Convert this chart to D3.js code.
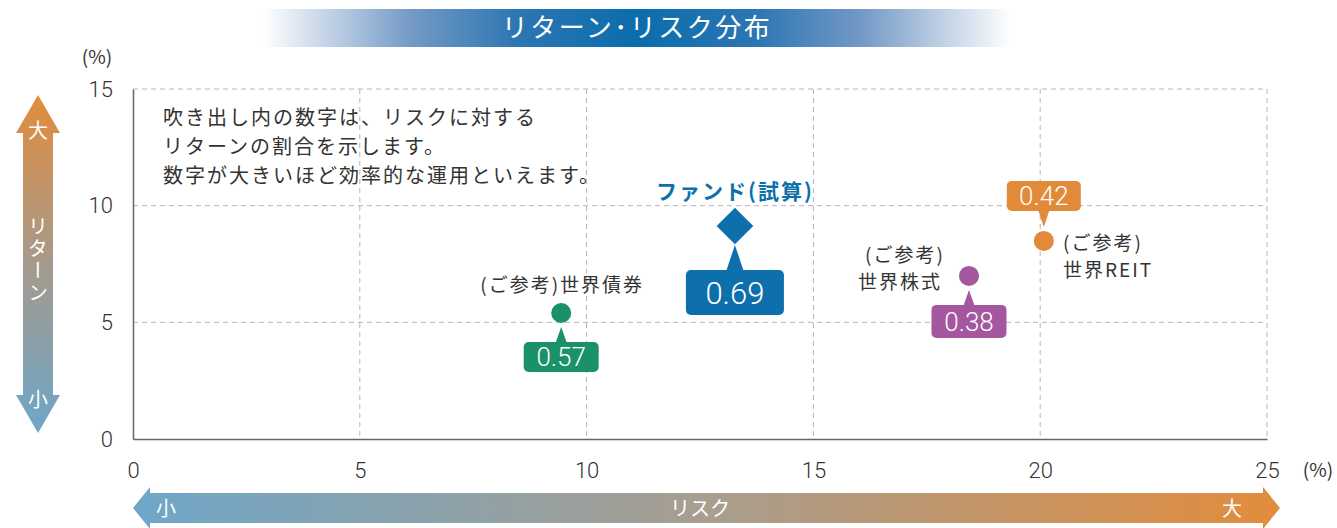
<!DOCTYPE html>
<html><head><meta charset="utf-8">
<script src="https://cdn.jsdelivr.net/npm/d3@7"></script>
<style>
html,body{margin:0;padding:0;background:#fff;}
svg{display:block;font-family:"Noto Sans CJK JP","Noto Sans",sans-serif;}
</style></head>
<body>
<svg id="c" width="1337" height="528"></svg>
<script>
// ---- data ----
const names = ["世界債券", "ファンド", "世界株式", "世界REIT"];
const risk = [9.44, 13.27, 18.43, 20.08];
const ret = [5.40, 9.13, 6.99, 8.49];
const ratioLabels = ["0.57", "0.69", "0.38", "0.42"];
const xTicks = [0, 5, 10, 15, 20, 25];
const yTicks = [0, 5, 10, 15];
const noteLines = ["吹き出し内の数字は、リスクに対する", "リターンの割合を示します。", "数字が大きいほど効率的な運用といえます。"];

const colors = ["#1a9168", "#0e6fad", "#a4579f", "#e08a3a"];

const svg = d3.select("#c");
const x = d3.scaleLinear().domain([0, 25]).range([133, 1267]);
const y = d3.scaleLinear().domain([0, 15]).range([439, 89]);

const defs = svg.append("defs");
const tg = defs.append("linearGradient").attr("id","tg").attr("x1","0").attr("x2","1");
[[0,"#ffffff"],[0.2,"#7399c6"],[0.34,"#2c76b3"],[0.5,"#0a6dac"],[0.66,"#2c76b3"],[0.8,"#7399c6"],[1,"#ffffff"]]
  .forEach(s=>tg.append("stop").attr("offset",s[0]).attr("stop-color",s[1]));
const vg = defs.append("linearGradient").attr("id","vg").attr("x1","0").attr("x2","0").attr("y1","0").attr("y2","1");
[[0,"#e28c3c"],[0.5,"#a59a8c"],[1,"#6ea6c8"]].forEach(s=>vg.append("stop").attr("offset",s[0]).attr("stop-color",s[1]));
const hg = defs.append("linearGradient").attr("id","hg").attr("x1","0").attr("x2","1");
[[0,"#6ea6c8"],[0.5,"#a89e90"],[1,"#e28c3c"]].forEach(s=>hg.append("stop").attr("offset",s[0]).attr("stop-color",s[1]));

// title
svg.append("rect").attr("x",263).attr("y",9).attr("width",748).attr("height",38).attr("fill","url(#tg)");
svg.append("text").attr("x",637).attr("y",37).attr("text-anchor","middle").attr("fill","#fff")
  .attr("font-size",26).attr("letter-spacing",2.5).text("リターン･リスク分布");

// grid
const g = svg.append("g");
g.selectAll(".gx").data(xTicks.filter(d=>d>0)).enter().append("line")
  .attr("x1",d=>x(d)).attr("x2",d=>x(d)).attr("y1",y(15)).attr("y2",y(0))
  .attr("stroke","#b5b5b5").attr("stroke-dasharray","5,4").attr("stroke-width",1);
g.selectAll(".gy").data(yTicks.filter(d=>d>0)).enter().append("line")
  .attr("x1",x(0)).attr("x2",x(25)).attr("y1",d=>y(d)).attr("y2",d=>y(d))
  .attr("stroke","#b5b5b5").attr("stroke-dasharray","5,4").attr("stroke-width",1);

// axes
const xa = svg.append("g").attr("transform",`translate(0,${y(0)})`)
  .call(d3.axisBottom(x).tickValues(xTicks).tickSize(0).tickPadding(23));
const ya = svg.append("g").attr("transform",`translate(${x(0)},0)`)
  .call(d3.axisLeft(y).tickValues(yTicks).tickSize(0).tickPadding(20));
[xa, ya].forEach(a=>{
  a.select(".domain").attr("stroke","#666").attr("stroke-width",1.5);
  a.selectAll("text").attr("font-size",22).attr("fill","#333").attr("font-family","Roboto, 'Noto Sans', sans-serif").attr("font-weight",300);
});
svg.append("text").attr("x",97).attr("y",64).attr("text-anchor","middle").attr("font-size",19).attr("fill","#333").text("(%)");
svg.append("text").attr("x",1318).attr("y",477).attr("text-anchor","middle").attr("font-size",19).attr("fill","#333").text("(%)");

// note
noteLines.forEach((t,i)=>{
  svg.append("text").attr("x",163).attr("y",125+i*29).attr("font-size",20).attr("letter-spacing",2).attr("fill","#333").text(t);
});

// left vertical arrow
const vTop = 95, vBot = 433, vcx = 38;
svg.append("path").attr("d",
  `M${vcx},${vTop} L${vcx+22},${vTop+38} L${vcx+15},${vTop+38} L${vcx+15},${vBot-38} L${vcx+22},${vBot-38} L${vcx},${vBot} L${vcx-22},${vBot-38} L${vcx-15},${vBot-38} L${vcx-15},${vTop+38} L${vcx-22},${vTop+38} Z`)
  .attr("fill","url(#vg)");
svg.append("text").attr("x",vcx).attr("y",138).attr("text-anchor","middle").attr("fill","#fff").attr("font-size",20).text("大");
svg.append("text").attr("x",vcx).attr("y",407).attr("text-anchor","middle").attr("fill","#fff").attr("font-size",20).text("小");
svg.append("text").attr("transform",`translate(${vcx},${216})`)
  .attr("text-anchor","start").attr("fill","#fff").attr("font-size",20).attr("letter-spacing",2).style("writing-mode","vertical-rl").text("リターン");

// bottom horizontal arrow
const hL = 133, hR = 1280, hcy = 508;
svg.append("path").attr("d",
  `M${hL},${hcy} L${hL+17},${hcy-21} L${hL+17},${hcy-15} L${hR-17},${hcy-15} L${hR-17},${hcy-21} L${hR},${hcy} L${hR-17},${hcy+21} L${hR-17},${hcy+15} L${hL+17},${hcy+15} L${hL+17},${hcy+21} Z`)
  .attr("fill","url(#hg)");
svg.append("text").attr("x",166).attr("y",516).attr("text-anchor","middle").attr("fill","#fff").attr("font-size",20).text("小");
svg.append("text").attr("x",1232).attr("y",516).attr("text-anchor","middle").attr("fill","#fff").attr("font-size",20).text("大");
svg.append("text").attr("x",700).attr("y",516).attr("text-anchor","middle").attr("fill","#fff").attr("font-size",20).text("リスク");

// callouts
const callout = [
  {dir:1, gap:15, h:30, w:75, fs:26},
  {dir:1, gap:25, h:45, w:98, fs:31},
  {dir:1, gap:15, h:33, w:75, fs:26},
  {dir:-1, gap:16, h:30, w:74, fs:26}
];
const pts = svg.append("g");
risk.forEach((r,i)=>{
  const px = x(r), py = y(ret[i]), c = colors[i], co = callout[i];
  const markerR = i===1 ? 15 : 10;
  let boxTop, tipY, baseY;
  if (co.dir===1) {
    tipY = py + markerR + 4;
    baseY = py + markerR + co.gap + 4;
    boxTop = baseY;
  } else {
    tipY = py - markerR - 4;
    baseY = py - markerR - co.gap - 4;
    boxTop = baseY - co.h;
  }
  const tw = i===1 ? 9 : 6;
  pts.append("path").attr("d",`M${px},${tipY} L${px+tw},${baseY+co.dir*2} L${px-tw},${baseY+co.dir*2} Z`).attr("fill",c);
  pts.append("rect").attr("x",px-co.w/2).attr("y",boxTop).attr("width",co.w).attr("height",co.h)
    .attr("rx",5).attr("fill",c);
  pts.append("text").attr("x",px).attr("y",boxTop+co.h/2+co.fs*0.36).attr("text-anchor","middle")
    .attr("fill","#fff").attr("font-size",co.fs).attr("font-family","Roboto, 'Noto Sans', sans-serif").attr("font-weight",300).text(ratioLabels[i]);
  if (i===1) {
    pts.append("path").attr("d",d3.symbol().type(d3.symbolDiamond2).size(2*markerR*markerR*1.9)())
      .attr("transform",`translate(${px},${py})`).attr("fill",c);
  } else {
    pts.append("circle").attr("cx",px).attr("cy",py).attr("r",markerR).attr("fill",c);
  }
});

// labels
const lab = svg.append("g").attr("fill","#333").attr("font-size",19).attr("letter-spacing",2);
lab.append("text").attr("x",x(risk[0])+1).attr("y",292).attr("text-anchor","middle").text("(ご参考)世界債券");
svg.append("text").attr("x",x(risk[1])).attr("y",199).attr("text-anchor","middle").attr("fill",colors[1])
  .attr("font-size",21).attr("letter-spacing",2).attr("font-weight",700).text("ファンド(試算)");
lab.append("text").attr("x",905).attr("y",262).attr("text-anchor","middle").text("(ご参考)");
lab.append("text").attr("x",900).attr("y",289).attr("text-anchor","middle").text("世界株式");
lab.append("text").attr("x",1063).attr("y",250).text("(ご参考)");
lab.append("text").attr("x",1063).attr("y",277).text("世界REIT");
</script>
</body></html>
